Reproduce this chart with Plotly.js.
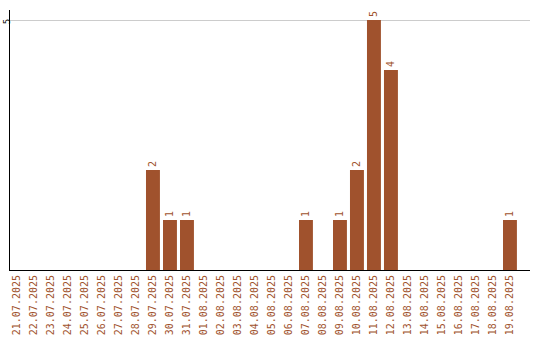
<!DOCTYPE html>
<html><head><meta charset="utf-8">
<script src="https://cdn.plot.ly/plotly-3.0.1.min.js"></script>
<style>html,body{margin:0;padding:0;background:#fff}</style>
</head><body><div id="chart" style="width:540px;height:340px"></div>
<script>
const dates = ["21.07.2025","22.07.2025","23.07.2025","24.07.2025","25.07.2025","26.07.2025","27.07.2025","28.07.2025","29.07.2025","30.07.2025","31.07.2025","01.08.2025","02.08.2025","03.08.2025","04.08.2025","05.08.2025","06.08.2025","07.08.2025","08.08.2025","09.08.2025","10.08.2025","11.08.2025","12.08.2025","13.08.2025","14.08.2025","15.08.2025","16.08.2025","17.08.2025","18.08.2025","19.08.2025"];
const counts = [0,0,0,0,0,0,0,0,2,1,1,0,0,0,0,0,0,1,0,1,2,5,4,0,0,0,0,0,0,1];
const labels = counts.map(v => v > 0 ? String(v) : "");
const color = "#A0522D";
Plotly.newPlot("chart", [{
  type: "bar", x: dates, y: counts, text: labels,
  textposition: "outside", textangle: -90, constraintext: "none", cliponaxis: false,
  textfont: {family: "DejaVu Sans Mono", size: 10, color: color},
  marker: {color: color}, hoverinfo: "none"
}], {
  width: 540, height: 340,
  margin: {l: 10, r: 10, t: 10, b: 70},
  paper_bgcolor: "#fff", plot_bgcolor: "#fff",
  bargap: 0.18, showlegend: false,
  xaxis: {type: "category", range: [-0.41, 30.18], tickangle: -90,
    tickfont: {family: "DejaVu Sans Mono", size: 10, color: color},
    showline: true, linecolor: "#000", linewidth: 1, showgrid: false, ticks: "", fixedrange: true},
  yaxis: {range: [0, 5.2], tickvals: [5], ticktext: ["5"], tickangle: -90,
    tickfont: {family: "DejaVu Sans Mono", size: 9, color: "#000"},
    showline: true, linecolor: "#000", linewidth: 1, showgrid: true, gridcolor: "#cccccc",
    zeroline: false, ticks: "", ticklabelstandoff: -5, ticklabelshift: 3, fixedrange: true}
}, {displayModeBar: false, staticPlot: true});
</script></body></html>
